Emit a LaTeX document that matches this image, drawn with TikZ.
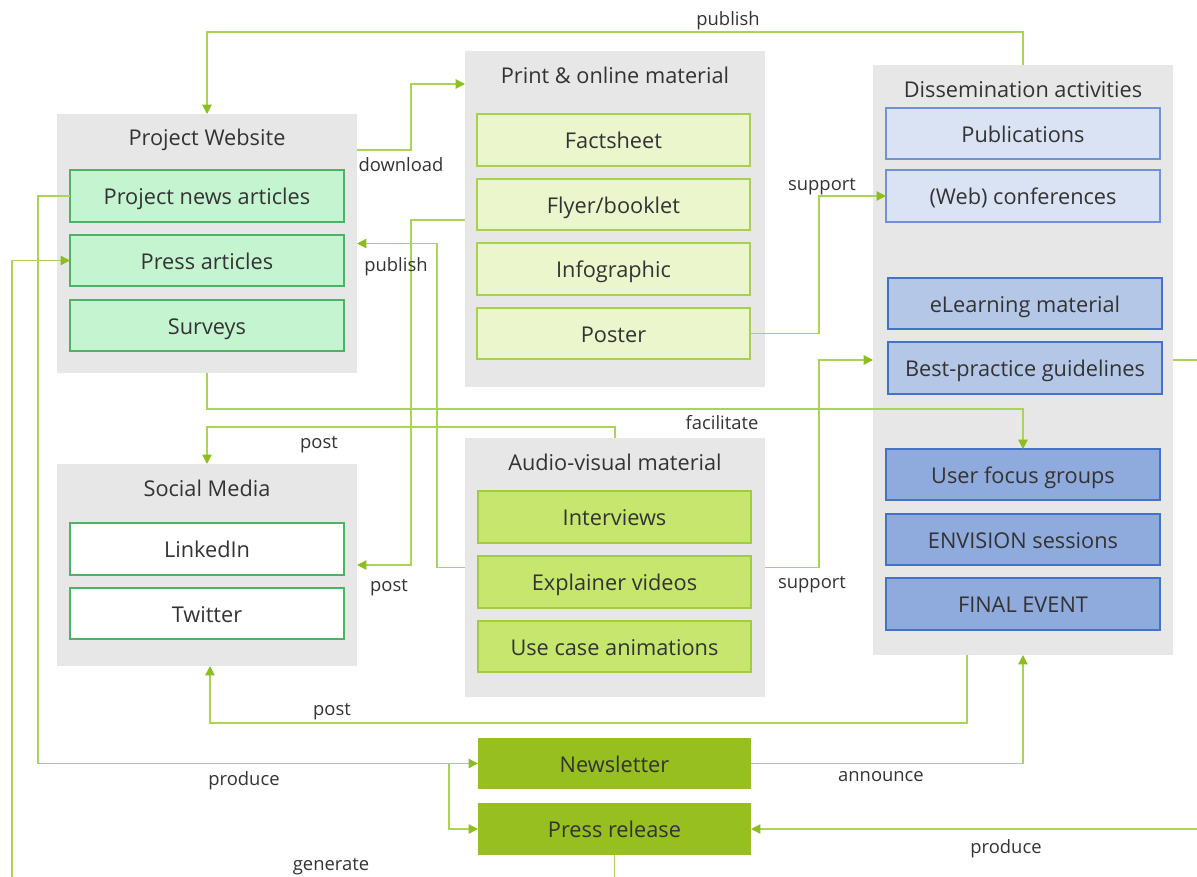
\documentclass[tikz,border=0pt]{standalone}
\usepackage{fontspec}
\setmainfont{Open Sans}
\usetikzlibrary{arrows.meta,calc}
\definecolor{txt}{RGB}{51,51,51}
\definecolor{grp}{RGB}{231,231,231}
\definecolor{wline}{RGB}{170,212,84}
\definecolor{whead}{RGB}{140,190,30}
\definecolor{webfill}{RGB}{196,244,208}
\definecolor{webdraw}{RGB}{76,178,100}
\definecolor{prfill}{RGB}{235,246,204}
\definecolor{prdraw}{RGB}{169,209,80}
\definecolor{avfill}{RGB}{198,230,110}
\definecolor{avdraw}{RGB}{160,205,60}
\definecolor{nlfill}{RGB}{150,191,31}
\definecolor{dafill}{RGB}{218,227,243}
\definecolor{dadraw}{RGB}{114,146,216}
\definecolor{dbfill}{RGB}{180,199,231}
\definecolor{dbdraw}{RGB}{68,114,196}
\definecolor{dcfill}{RGB}{143,170,220}
% name, x1, y1, x2, y2, style, text  (pixel units, y downwards)
\newcommand\pxbox[7]{%
  \node[#6, minimum width={(#4-#2)*0.75pt}, minimum height={(#5-#3)*0.75pt}]
    (#1) at ({(#2+#4)/2},{(#3+#5)/2}) {#7};}
\tikzset{
  group/.style={fill=grp, draw=none, inner sep=0pt, outer sep=0pt},
  item/.style={inner sep=0pt, outer sep=0pt, line width=0.9pt, text=txt,
    font=\fontsize{16.3}{19}\selectfont, text height=12.8pt, text depth=0pt},
  webitem/.style={item, fill=webfill, draw=webdraw},
  smitem/.style={item, fill=white, draw=webdraw},
  pritem/.style={item, fill=prfill, draw=prdraw},
  avitem/.style={item, fill=avfill, draw=avdraw},
  nlitem/.style={item, fill=nlfill, draw=none},
  daitem/.style={item, fill=dafill, draw=dadraw},
  dbitem/.style={item, fill=dbfill, draw=dbdraw},
  dcitem/.style={item, fill=dcfill, draw=dbdraw},
  gtitle/.style={text=txt, font=\fontsize{16.3}{19}\selectfont, inner sep=0pt,
    text height=11.6pt, text depth=0pt},
  lbl/.style={text=txt, font=\fontsize{13.8}{16}\selectfont, inner sep=0pt,
    text height=9.85pt, text depth=0pt},
  conn/.style={draw=wline, line width=1pt, -{Triangle[length=7pt,width=7pt,color=whead,fill=whead]}},
}
\begin{document}
\begin{tikzpicture}[x=0.75pt,y=-0.75pt]
\useasboundingbox (0,0) rectangle (1197,876);
\clip (0,0) rectangle (1197,876);

% groups
\pxbox{pw}{57}{114}{357}{373}{group}{}
\pxbox{print}{465}{51}{765}{387}{group}{}
\pxbox{dis}{873}{65}{1173}{655}{group}{}
\pxbox{sm}{57}{464}{357}{666}{group}{}
\pxbox{av}{465}{438}{765}{697}{group}{}

\node[gtitle] (pwt) at (207,137.5) {Project Website};
\node[gtitle] (printt) at (615,75.5) {Print \& online material};
\node[gtitle] (dist) at (1023,89.5) {Dissemination activities};
\node[gtitle] (smt) at (207,488.5) {Social Media};
\node[gtitle] (avt) at (615,462.5) {Audio-visual material};

% project website
\pxbox{news}{70}{170}{344}{222}{webitem}{Project news articles}
\pxbox{pa}{70}{235}{344}{286}{webitem}{Press articles}
\pxbox{surv}{70}{300}{344}{351}{webitem}{Surveys}

% print & online
\pxbox{fact}{477}{114}{750}{166}{pritem}{Factsheet}
\pxbox{flyer}{477}{179}{750}{230}{pritem}{Flyer/booklet}
\pxbox{info}{477}{243}{750}{295}{pritem}{Infographic}
\pxbox{poster}{477}{308}{750}{359}{pritem}{Poster}

% dissemination
\pxbox{publ}{886}{108}{1160}{159}{daitem}{Publications}
\pxbox{webconf}{886}{170}{1160}{222}{daitem}{(Web) conferences}
\pxbox{elearn}{888}{278}{1162}{329}{dbitem}{eLearning material}
\pxbox{bpg}{888}{342}{1162}{394}{dbitem}{Best-practice guidelines}
\pxbox{ufg}{886}{449}{1160}{500}{dcitem}{User focus groups}
\pxbox{env}{886}{514}{1160}{565}{dcitem}{ENVISION sessions}
\pxbox{final}{886}{578}{1160}{630}{dcitem}{FINAL EVENT}

% social media
\pxbox{li}{70}{523}{344}{575}{smitem}{LinkedIn}
\pxbox{tw}{70}{588}{344}{639}{smitem}{Twitter}

% audio-visual
\pxbox{intv}{478}{491}{751}{543}{avitem}{Interviews}
\pxbox{expl}{478}{556}{751}{608}{avitem}{Explainer videos}
\pxbox{uca}{478}{621}{751}{672}{avitem}{Use case animations}

% newsletter / press release
\pxbox{nl}{478}{738}{751}{789}{nlitem}{Newsletter}
\pxbox{pr}{478}{803}{751}{855}{nlitem}{Press release}

% connectors
\draw[conn] (dis.north) -- ++(0,-33) -| (pw.north);
\draw[conn] ($(pw.north east)+(0,36)$) -- ++(54,0) |- ($(print.north west)+(0,33)$);
\draw[conn] ($(print.north west)+(0,169)$) -- ++(-54,0) |- (sm.east);
\draw[conn] (av.west) -- ++(-28,0) |- (pw.east);
\draw[conn] (poster.east) -- ++(69,0) |- (webconf.west);
\draw[conn] (av.east) -- ++(54,0) |- ($(dis.north west)+(0,295)$);
\draw[conn] (pw.south) -- ++(0,36) -| (ufg.north);
\draw[conn] (av.north) -- ++(0,-11) -| (sm.north);
\draw[conn] ($(dis.south)+(-56,0)$) -- ++(0,68) -| ($(sm.south)+(3,0)$);
\draw[conn] (news.west) -- ++(-32,0) |- (nl.west);
\coordinate (split) at ($(nl.west)+(-29,0)$);
\draw[conn] (split) |- (pr.west);
\draw[conn] (nl.east) -| (dis.south);
\draw[conn] (dis.east) -- ++(40,0) |- (pr.east);
\draw[conn] (pr.south) -- ++(0,40) -| ($(pa.west)+(-58,0)$) -- (pa.west);

% connector labels
\node[lbl] (l1) at (728,18.5) {publish};
\node[lbl] (l2) at (401,164.5) {download};
\node[lbl] (l3) at (396,264.5) {publish};
\node[lbl] (l4) at (822,183.5) {support};
\node[lbl] (l5) at (722,422.5) {facilitate};
\node[lbl] (l6) at (319,441.5) {post};
\node[lbl] (l7) at (389,584.5) {post};
\node[lbl] (l8) at (812,581.5) {support};
\node[lbl] (l9) at (332,708.5) {post};
\node[lbl] (l10) at (244,778.5) {produce};
\node[lbl] (l11) at (881,774.5) {announce};
\node[lbl] (l12) at (1006,846.5) {produce};
\node[lbl] (l13) at (331,863.5) {generate};
\end{tikzpicture}
\end{document}
